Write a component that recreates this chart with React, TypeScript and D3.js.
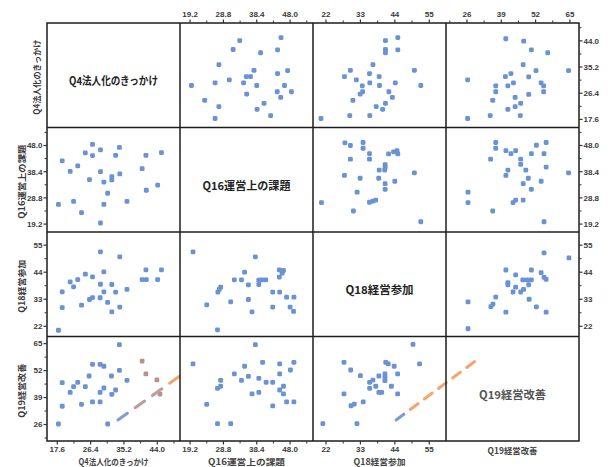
import * as d3 from 'd3';

// Scatter-plot matrix: Q4 / Q16 / Q18 / Q19

const varNames = ['Q4法人化のきっかけ', 'Q16運営上の課題', 'Q18経営参加', 'Q19経営改善'];
const domains: [number, number][] = [
	[14.88, 50.0],
	[16.3, 54.6],
	[17.85, 60.35],
	[18.05, 68.45],
];
const tickValues = [
	[17.6, 26.4, 35.2, 44.0],
	[19.2, 28.8, 38.4, 48.0],
	[22, 33, 44, 55],
	[26, 39, 52, 65],
];
const tickFormats = ['.1f', '.1f', 'd', 'd'];

// pairs: [lower-index variable, higher-index variable]
const q4q16 = [
	[26.9, 48.4], [29.0, 46.4], [34.0, 47.3], [25.0, 45.3], [26.9, 44.3], [33.0, 44.4], [41.0, 44.4],
	[45.1, 45.4], [18.9, 42.4], [23.0, 40.5], [21.0, 38.5], [29.0, 38.4], [40.0, 39.5], [34.1, 37.6],
	[32.0, 36.6], [32.0, 35.4], [26.1, 35.5], [29.9, 34.6], [44.1, 33.5], [41.1, 31.6], [30.9, 30.5],
	[17.9, 26.4], [21.9, 27.5], [29.9, 26.4], [36.0, 27.5], [24.0, 23.4], [29.0, 19.6],
];
const q4q18 = [
	[29.0, 52.3], [34.1, 50.25], [29.9, 44.15], [41.0, 44.95], [45.1, 44.95], [25.0, 43.2], [26.9, 42.1],
	[21.0, 40.1], [23.0, 41.0], [40.0, 41.0], [41.1, 41.0], [44.1, 41.0], [29.0, 39.1], [32.0, 39.0],
	[21.9, 38.05], [18.9, 36.0], [29.9, 36.0], [33.0, 35.9], [36.0, 37.0], [26.9, 33.7], [26.1, 32.9],
	[28.9, 33.6], [30.9, 31.7], [24.0, 30.6], [18.9, 29.6], [34.1, 29.8], [32.0, 27.9], [17.9, 20.4],
];
const q4q19 = [
	[34.0, 64.5], [26.9, 55.05], [28.9, 55.05], [29.9, 54.1], [34.0, 52.15], [26.0, 49.4], [31.9, 49.4],
	[36.0, 47.3], [18.9, 46.2], [23.0, 46.35], [21.9, 44.25], [25.0, 44.25], [29.9, 43.6], [33.0, 42.65],
	[21.0, 41.5], [28.9, 41.5], [32.0, 40.55], [26.9, 36.9], [28.9, 36.9], [24.0, 35.75], [18.9, 34.8],
	[17.9, 26.25], [30.9, 26.25], [40.0, 56.6], [41.0, 50.4], [43.9, 47.5], [44.7, 40.7],
];
// the last four Q4/Q19 points are tinted in the lower-left panel of the scan
const tintedQ4Q19 = [23, 24, 25, 26];
const q16q18 = [
	[20.05, 52.3], [38.0, 50.25], [34.9, 44.0], [44.9, 44.95], [46.1, 44.7], [45.7, 43.6], [44.9, 42.0],
	[31.95, 40.9], [34.0, 40.9], [36.0, 38.85], [39.0, 40.75], [39.9, 40.9], [41.0, 40.9], [39.0, 39.0],
	[28.0, 37.9], [27.6, 37.0], [27.2, 35.9], [43.0, 35.9], [45.0, 35.9], [47.0, 33.85], [49.1, 33.85],
	[30.9, 31.95], [36.0, 32.9], [24.0, 30.75], [43.0, 29.8], [48.0, 29.8], [49.0, 28.05], [37.05, 27.9],
	[27.1, 20.55],
];
const q16q19 = [
	[38.0, 64.5], [20.05, 55.2], [34.9, 54.1], [40.1, 56.0], [49.1, 56.0], [45.0, 55.2], [48.1, 52.3],
	[31.95, 50.4], [45.0, 50.4], [36.0, 49.25], [39.0, 48.3], [34.0, 47.3], [28.0, 47.3], [41.1, 46.35],
	[43.0, 46.35], [46.1, 44.45], [28.0, 44.45], [27.1, 43.45], [45.0, 42.65], [46.1, 40.75], [37.05, 40.75],
	[39.0, 41.5], [47.0, 36.9], [49.1, 36.9], [24.0, 35.75], [43.0, 34.95], [27.1, 26.4], [30.9, 26.4],
];
const q18q19 = [
	[49.8, 64.65], [27.75, 56.0], [41.1, 56.0], [41.9, 55.2], [43.8, 54.1], [51.9, 55.2], [29.9, 52.3],
	[33.0, 49.55], [44.9, 50.4], [38.9, 49.4], [40.85, 50.4], [40.85, 48.75], [40.85, 47.15], [37.0, 47.45],
	[35.95, 46.35], [37.9, 44.45], [42.9, 44.45], [35.95, 43.45], [38.9, 41.5], [39.8, 41.5], [27.75, 40.75],
	[44.9, 40.75], [33.9, 36.9], [31.05, 35.85], [30.0, 35.05], [21.0, 26.4], [31.9, 26.4],
];

// dashed marker streaks across the bottom row (panel data coordinates)
const streakQ4Q19 = [[33.6, 28.2], [51.8, 51.8]];
const streakQ4Q19Colors = ['#7f9cd2', '#bb9e9c', '#bb9e9c', '#f4a46c'];
const streakQ18Q19 = [[44.4, 28.2], [71.5, 58.6]];
const streakQ18Q19Colors = ['#7f9cd2', '#f4a46c', '#f4a46c', '#f4a46c', '#f4a46c', '#f4a46c'];

const W = 611;
const H = 467;
const LEFT = 47;
const TOP = 23;
const CW = 133;
const CH = 104.5;
const N = 4;

const pairs: Record<string, number[][]> = {
	'0-1': q4q16,
	'0-2': q4q18,
	'0-3': q4q19,
	'1-2': q16q18,
	'1-3': q16q19,
	'2-3': q18q19,
};

const xScale = (j: number) => d3.scaleLinear().domain(domains[j]).range([LEFT + j * CW, LEFT + (j + 1) * CW]);
const yScale = (i: number) => d3.scaleLinear().domain(domains[i]).range([TOP + (i + 1) * CH, TOP + i * CH]);

const minorTicks = (k: number) => {
	const t = tickValues[k];
	const half = (t[1] - t[0]) / 2;
	const out: number[] = [];
	for (let v = t[0] - half * 3; v <= domains[k][1]; v += half * 2) {
		if (v >= domains[k][0] && v <= domains[k][1]) out.push(v);
	}
	return out;
};

const tickFont = "'Liberation Sans', Arial, sans-serif";
const jpFont = "'Noto Sans CJK JP', 'Noto Sans', sans-serif";
const BLUE = '#6a93d4';

function Streak({ pts, colors, sx, sy }: { pts: number[][]; colors: string[]; sx: d3.ScaleLinear<number, number>; sy: d3.ScaleLinear<number, number> }) {
	const x0 = sx(pts[0][0]);
	const y0 = sy(pts[0][1]);
	const x1 = sx(pts[1][0]);
	const y1 = sy(pts[1][1]);
	const len = Math.hypot(x1 - x0, y1 - y0);
	const ux = (x1 - x0) / len;
	const uy = (y1 - y0) / len;
	const period = len / colors.length;
	const dash = period * 0.55;
	return (
		<g>
			{colors.map((c, k) => {
				const a = k * period;
				const b = Math.min(a + dash, len);
				return <line key={k} x1={x0 + ux * a} y1={y0 + uy * a} x2={x0 + ux * b} y2={y0 + uy * b} stroke={c} strokeWidth={3} strokeLinecap="round" />;
			})}
		</g>
	);
}

export default function App() {
	const cells: JSX.Element[] = [];

	for (let i = 0; i < N; i++) {
		for (let j = 0; j < N; j++) {
			if (i === j) continue;
			const a = Math.min(i, j);
			const b = Math.max(i, j);
			const data = pairs[`${a}-${b}`];
			const sx = xScale(j);
			const sy = yScale(i);
			// column variable is x, row variable is y
			const tinted = a === 0 && b === 3 && i === 3;
			data.forEach((d, k) => {
				const xv = j === a ? d[0] : d[1];
				const yv = i === a ? d[0] : d[1];
				const isTint = tinted && tintedQ4Q19.includes(k);
				cells.push(
					<rect
						key={`p-${i}-${j}-${k}`}
						x={sx(xv) - 2.4}
						y={sy(yv) - 2.4}
						width={4.8}
						height={4.8}
						rx={1.4}
						fill={isTint ? '#b8908e' : BLUE}
					/>
				);
			});
		}
	}

	const axes: JSX.Element[] = [];
	const fmt = (k: number) => d3.format(tickFormats[k]);

	for (let k = 0; k < N; k++) {
		const sx = xScale(k);
		const sy = yScale(k);
		const f = fmt(k);
		const minors = minorTicks(k);
		const gridTop = TOP;
		const gridBottom = TOP + N * CH;
		const gridLeft = LEFT;
		const gridRight = LEFT + N * CW;
		// top axis: columns 2..4
		if (k > 0) {
			minors.forEach((v, m) => axes.push(<line key={`tm${k}-${m}`} x1={sx(v)} x2={sx(v)} y1={gridTop} y2={gridTop - 2.5} stroke="#333" strokeWidth={1} />));
			tickValues[k].forEach((v, m) => {
				axes.push(<line key={`tt${k}-${m}`} x1={sx(v)} x2={sx(v)} y1={gridTop} y2={gridTop - 3.5} stroke="#333" strokeWidth={1.2} />);
				axes.push(
					<text key={`tl${k}-${m}`} x={sx(v)} y={gridTop - 6} textAnchor="middle" fontSize={8} fontWeight={700} fill="#3a3a3a" fontFamily={tickFont}>
						{f(v)}
					</text>
				);
			});
		}
		// bottom axis: columns 1..3
		if (k < N - 1) {
			minors.forEach((v, m) => axes.push(<line key={`bm${k}-${m}`} x1={sx(v)} x2={sx(v)} y1={gridBottom} y2={gridBottom + 2.5} stroke="#333" strokeWidth={1} />));
			tickValues[k].forEach((v, m) => {
				axes.push(<line key={`bt${k}-${m}`} x1={sx(v)} x2={sx(v)} y1={gridBottom} y2={gridBottom + 3.5} stroke="#333" strokeWidth={1.2} />);
				axes.push(
					<text key={`bl${k}-${m}`} x={sx(v)} y={gridBottom + 11} textAnchor="middle" fontSize={8} fontWeight={700} fill="#3a3a3a" fontFamily={tickFont}>
						{f(v)}
					</text>
				);
			});
		}
		// left axis: rows 2..4
		if (k > 0) {
			minors.forEach((v, m) => axes.push(<line key={`lm${k}-${m}`} x1={gridLeft} x2={gridLeft - 2.5} y1={sy(v)} y2={sy(v)} stroke="#333" strokeWidth={1} />));
			tickValues[k].forEach((v, m) => {
				axes.push(<line key={`lt${k}-${m}`} x1={gridLeft} x2={gridLeft - 3.5} y1={sy(v)} y2={sy(v)} stroke="#333" strokeWidth={1.2} />);
				axes.push(
					<text key={`ll${k}-${m}`} x={gridLeft - 4.5} y={sy(v)} dy="0.35em" textAnchor="end" fontSize={8} fontWeight={700} fill="#3a3a3a" fontFamily={tickFont}>
						{f(v)}
					</text>
				);
			});
		}
		// right axis: rows 1..3
		if (k < N - 1) {
			minors.forEach((v, m) => axes.push(<line key={`rm${k}-${m}`} x1={gridRight} x2={gridRight + 2.5} y1={sy(v)} y2={sy(v)} stroke="#333" strokeWidth={1} />));
			tickValues[k].forEach((v, m) => {
				axes.push(<line key={`rt${k}-${m}`} x1={gridRight} x2={gridRight + 3.5} y1={sy(v)} y2={sy(v)} stroke="#333" strokeWidth={1.2} />);
				axes.push(
					<text key={`rl${k}-${m}`} x={gridRight + 4.5} y={sy(v)} dy="0.35em" textAnchor="start" fontSize={8} fontWeight={700} fill="#3a3a3a" fontFamily={tickFont}>
						{f(v)}
					</text>
				);
			});
		}
	}

	const diagLen = [89, 88, 68, 67];
	const diagColor = ['#222', '#222', '#222', '#555'];
	const sideLen = [75, 74, 53, 54];
	const bottomLen = [70, 77, 52, 50];

	const gridLines: JSX.Element[] = [];
	for (let k = 1; k < N; k++) {
		gridLines.push(<line key={`gv${k}`} x1={LEFT + k * CW} x2={LEFT + k * CW} y1={TOP} y2={TOP + N * CH} stroke="#1c1c1c" strokeWidth={1.5} />);
		gridLines.push(<line key={`gh${k}`} x1={LEFT} x2={LEFT + N * CW} y1={TOP + k * CH} y2={TOP + k * CH} stroke="#1c1c1c" strokeWidth={1.5} />);
	}

	return (
		<svg width={W} height={H} style={{ position: 'absolute', left: 0, top: 0, background: '#fff' }}>
			<rect x={0} y={0} width={W} height={H} fill="#fff" />
			{cells}
			<Streak pts={streakQ4Q19} colors={streakQ4Q19Colors} sx={xScale(0)} sy={yScale(3)} />
			<Streak pts={streakQ18Q19} colors={streakQ18Q19Colors} sx={xScale(2)} sy={yScale(3)} />
			{gridLines}
			<rect x={LEFT} y={TOP} width={N * CW} height={N * CH} fill="none" stroke="#1c1c1c" strokeWidth={1.5} />
			{axes}
			{varNames.map((name, k) => {
				const cx = LEFT + (k + 0.5) * CW;
				const cy = TOP + (k + 0.5) * CH + 6;
				return (
					<text key={`d${k}`} x={cx} y={cy} dy="0.35em" textAnchor="middle" fontSize={11} fontWeight={700} fill={diagColor[k]} fontFamily={jpFont} textLength={diagLen[k]} lengthAdjust="spacingAndGlyphs">
						{name}
					</text>
				);
			})}
			{varNames.map((name, k) => {
				const cy = TOP + (k + 0.5) * CH + 2;
				const x = k === 0 ? 37 : 22;
				return (
					<text key={`s${k}`} transform={`translate(${x},${cy}) rotate(-90)`} dy="0.35em" textAnchor="middle" fontSize={8.5} fontWeight={700} fill="#3a3a3a" fontFamily={jpFont} textLength={sideLen[k]} lengthAdjust="spacingAndGlyphs">
						{name}
					</text>
				);
			})}
			{varNames.map((name, k) => {
				const cx = LEFT + (k + 0.5) * CW;
				const y = k === N - 1 ? 454 : 464.5;
				return (
					<text key={`b${k}`} x={cx} y={y} textAnchor="middle" fontSize={8.5} fontWeight={700} fill="#444" fontFamily={jpFont} textLength={bottomLen[k]} lengthAdjust="spacingAndGlyphs">
						{name}
					</text>
				);
			})}
		</svg>
	);
}
